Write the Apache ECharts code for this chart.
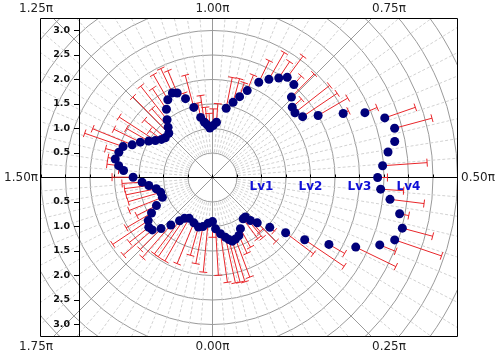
<!DOCTYPE html>
<html><head><meta charset="utf-8">
<script src="https://cdn.jsdelivr.net/npm/echarts@6/dist/echarts.min.js"></script>
<style>html,body{margin:0;padding:0;background:#fff}#c{width:500px;height:356px}</style>
</head><body><div id="c"></div>
<script>
// angle in units of pi (0 at bottom, counter-clockwise)
const theta = [0.000,0.019,0.045,0.068,0.082,0.096,0.114,0.136,0.159,0.203,0.221,0.230,0.248,0.272,0.294,0.311,0.334,0.356,0.378,0.395,0.417,0.439,0.461,0.478,0.500,
0.522,0.546,0.562,0.584,0.606,0.628,0.645,0.669,0.689,0.712,0.730,0.753,0.771,0.796,0.813,0.834,0.856,0.879,0.897,0.915,0.938,0.977,0.996,
1.017,1.032,1.046,1.062,1.083,1.105,1.126,1.141,1.166,1.189,1.212,1.230,1.248,1.277,1.296,1.317,1.335,1.355,1.377,1.394,1.416,1.440,1.460,1.475,1.499,
1.521,1.540,1.563,1.589,1.620,1.648,1.668,1.688,1.711,1.728,1.749,1.771,1.793,1.809,1.835,1.876,1.912,1.939,1.969];
const radius = [0.90,1.05,1.16,1.25,1.31,1.36,1.34,1.30,1.19,1.05,1.05,1.17,1.30,1.55,1.87,2.27,2.74,3.25,3.68,3.93,4.01,3.89,3.65,3.44,3.37,
3.48,3.62,3.79,3.85,3.72,3.38,2.97,2.50,2.22,2.14,2.17,2.30,2.52,2.55,2.44,2.31,2.16,1.91,1.74,1.59,1.44,1.13,1.06,
1.01,1.08,1.14,1.25,1.48,1.70,1.87,1.91,1.83,1.68,1.50,1.37,1.27,1.26,1.30,1.39,1.50,1.64,1.77,1.93,1.98,2.02,1.93,1.82,1.62,
1.44,1.31,1.17,1.10,1.10,1.28,1.44,1.58,1.65,1.63,1.48,1.29,1.11,1.01,0.96,1.00,1.05,1.02,0.94];
const errors = [0.32,0.95,1.00,0.95,0.90,0.87,0.83,0.40,0.43,0.50,0.55,0.30,0.54,0.12,0.71,0.97,0.37,0.91,0.35,1.01,0.64,0.19,0.70,0.47,0.20,
0.91,0.00,0.04,0.79,0.66,0.27,0.12,0.70,0.85,0.90,0.25,0.66,0.23,0.54,0.40,0.63,0.49,0.34,0.30,0.50,0.64,0.38,0.34,
0.30,0.36,0.55,0.30,0.68,0.12,0.49,0.55,0.59,0.51,0.87,0.50,1.04,0.56,0.30,0.88,0.52,0.60,0.87,0.83,0.28,0.15,0.24,0.10,0.43,
0.41,0.50,0.63,0.69,0.73,0.45,0.60,0.87,0.50,0.78,0.60,0.88,0.85,0.95,1.00,0.90,0.60,0.77,1.00];
const angleTicks = [0,0.25,0.5,0.75,1,1.25,1.5,1.75];
const levelValues = [1,2,3,4];
const levelLabels = ['Lv1','Lv2','Lv3','Lv4'];
const yTickLabels = ['0.5','1.0','1.5','2.0','2.5','3.0'];

const CX = 212.5, CY = 177.5, PX = 49; // px per unit
const FL = 40, FR = 458, FT = 18, FB = 337;
const chart = echarts.init(document.getElementById('c'));

const pts = theta.map((t,i)=>[radius[i], t]);
const bars = theta.map((t,i)=>[radius[i], t, errors[i]]);
const levelPts = levelValues.map((v,i)=>({value:[v,0], name:levelLabels[i]}));

const graphics = [
  {type:'circle', shape:{cx:CX, cy:CY, r:23.5}, style:{fill:'#fff'}, z:1, silent:true},
  {type:'rect', shape:{x:0,y:0,width:500,height:FT}, style:{fill:'#fff'}, z:50, silent:true},
  {type:'rect', shape:{x:0,y:FB,width:500,height:356-FB}, style:{fill:'#fff'}, z:50, silent:true},
  {type:'rect', shape:{x:0,y:0,width:FL,height:356}, style:{fill:'#fff'}, z:50, silent:true},
  {type:'rect', shape:{x:FR,y:0,width:500-FR,height:356}, style:{fill:'#fff'}, z:50, silent:true},
  {type:'rect', shape:{x:FL+0.5,y:FT+0.5,width:FR-FL-1,height:FB-FT-1}, style:{fill:null, stroke:'#000', lineWidth:1}, z:51, silent:true}
];
angleTicks.forEach(a=>{
  const dx = Math.sin(a*Math.PI), dy = Math.cos(a*Math.PI);
  let best = Infinity, side='';
  if (dy < -1e-6) { const t=(FT-CY)/dy; if (t<best){best=t;side='top';} }
  if (dy > 1e-6) { const t=(FB-CY)/dy; if (t<best){best=t;side='bottom';} }
  if (dx < -1e-6) { const t=(FL-CX)/dx; if (t<best){best=t;side='left';} }
  if (dx > 1e-6) { const t=(FR-CX)/dx; if (t<best){best=t;side='right';} }
  const ix = CX+dx*best, iy = CY+dy*best;
  let x=ix, y=iy, align='center', va='middle';
  if (side==='top') { y = 9; align = Math.abs(dx)<0.01?'center':(dx>0?'left':'right'); }
  else if (side==='bottom') { y = 347; align = Math.abs(dx)<0.01?'center':(dx>0?'left':'right'); }
  else if (side==='left') { x = 38; align='right'; }
  else { x = 461; align='left'; }
  graphics.push({type:'text', x:x, y:y, z:60, silent:true,
    style:{text:a.toFixed(2)+'π', fill:'#222', font:'12px "DejaVu Sans"', align:align, verticalAlign:va}});
});

const option = {
  animation:false,
  polar:[
    {center:[CX,CY], radius:6.5*PX},
    {center:[CX,CY], radius:0.5*PX}
  ],
  angleAxis:[
    {polarIndex:0, type:'value', min:0, max:2, interval:0.25, startAngle:-90, clockwise:false, z:0,
     axisLine:{show:false}, axisTick:{show:false}, axisLabel:{show:false},
     splitLine:{show:true, lineStyle:{color:'#9a9a9a', width:1}},
     minorTick:{show:false, splitNumber:10},
     minorSplitLine:{show:true, lineStyle:{color:'#d2d2d2', width:1, type:[3,2]}}},
    {polarIndex:1, type:'value', min:0, max:2, interval:0.25, startAngle:-90, clockwise:false, z:2,
     axisLine:{show:false}, axisTick:{show:false}, axisLabel:{show:false},
     splitLine:{show:true, lineStyle:{color:'#9a9a9a', width:1}}}
  ],
  radiusAxis:[
    {polarIndex:0, type:'value', min:0, max:6.5, interval:0.5, z:0,
     axisLine:{show:false}, axisTick:{show:false}, axisLabel:{show:false},
     splitLine:{show:true, lineStyle:{color:'#9a9a9a', width:1}}},
    {polarIndex:1, type:'value', min:0, max:0.5, z:2,
     axisLine:{show:false}, axisTick:{show:false}, axisLabel:{show:false}, splitLine:{show:false}}
  ],
  grid:[
    {left:CX-3.5*PX, top:CY-3.5*PX, width:FR-(CX-3.5*PX), height:7*PX, show:false},
    {left:79, top:CY-3.5*PX, width:10, height:7*PX, show:false}
  ],
  xAxis:[
    {gridIndex:0, type:'value', min:-3.5, max:(FR-CX)/PX, interval:0.5, z:3,
     axisLine:{show:true, onZero:true, lineStyle:{color:'#000', width:1}},
     axisTick:{show:true, inside:true, length:3, lineStyle:{color:'#000'}},
     splitLine:{show:false}, axisLabel:{show:false}},
    {gridIndex:1, type:'value', show:false}
  ],
  yAxis:[
    {gridIndex:0, type:'value', min:-3.5, max:3.5, show:false},
    {gridIndex:1, type:'value', min:-3.5, max:3.5, interval:0.5, z:3, position:'left',
     axisLine:{show:true, lineStyle:{color:'#000', width:1}},
     axisTick:{show:true, length:5, lineStyle:{color:'#000'}},
     splitLine:{show:false},
     axisLabel:{interval:0, margin:9, color:'#111', fontWeight:'bold', fontSize:9.5, fontFamily:'DejaVu Sans',
       formatter:v=>{const k=Math.round(Math.abs(v)*2); return (k>=1 && k<=yTickLabels.length && Math.abs(Math.abs(v)*2-k)<1e-6)?yTickLabels[k-1]:'';}}}
  ],
  series:[
    {type:'custom', coordinateSystem:'polar', polarIndex:0, z:9, silent:true,
     data:bars,
     renderItem:(params, api)=>{
       const r=api.value(0), t=api.value(1), e=api.value(2);
       if (!(e>0)) return null;
       const p0=api.coord([r,t]), p1=api.coord([r+e,t]);
       let dx=p1[0]-p0[0], dy=p1[1]-p0[1]; const L=Math.hypot(dx,dy)||1; dx/=L; dy/=L;
       const nx=-dy*4, ny=dx*4;
       const st={stroke:'#e8262a', lineWidth:1};
       return {type:'group', children:[
         {type:'line', shape:{x1:p0[0],y1:p0[1],x2:p1[0],y2:p1[1]}, style:st},
         {type:'line', shape:{x1:p1[0]-nx,y1:p1[1]-ny,x2:p1[0]+nx,y2:p1[1]+ny}, style:st}
       ]};
     }},
    {type:'scatter', coordinateSystem:'polar', polarIndex:0, z:10, silent:true,
     symbol:'circle', symbolSize:9, itemStyle:{color:'#00007a', opacity:1}, data:pts},
    {type:'scatter', xAxisIndex:0, yAxisIndex:0, z:8, silent:true, symbolSize:0, data:levelPts,
     itemStyle:{opacity:1},
     label:{show:true, position:'bottom', distance:3, opacity:1, formatter:p=>p.name, color:'#0f0fd6', fontWeight:'bold', fontSize:12, fontFamily:'DejaVu Sans'}}
  ],
  graphic:graphics
};
chart.setOption(option);
</script>
</body></html>
